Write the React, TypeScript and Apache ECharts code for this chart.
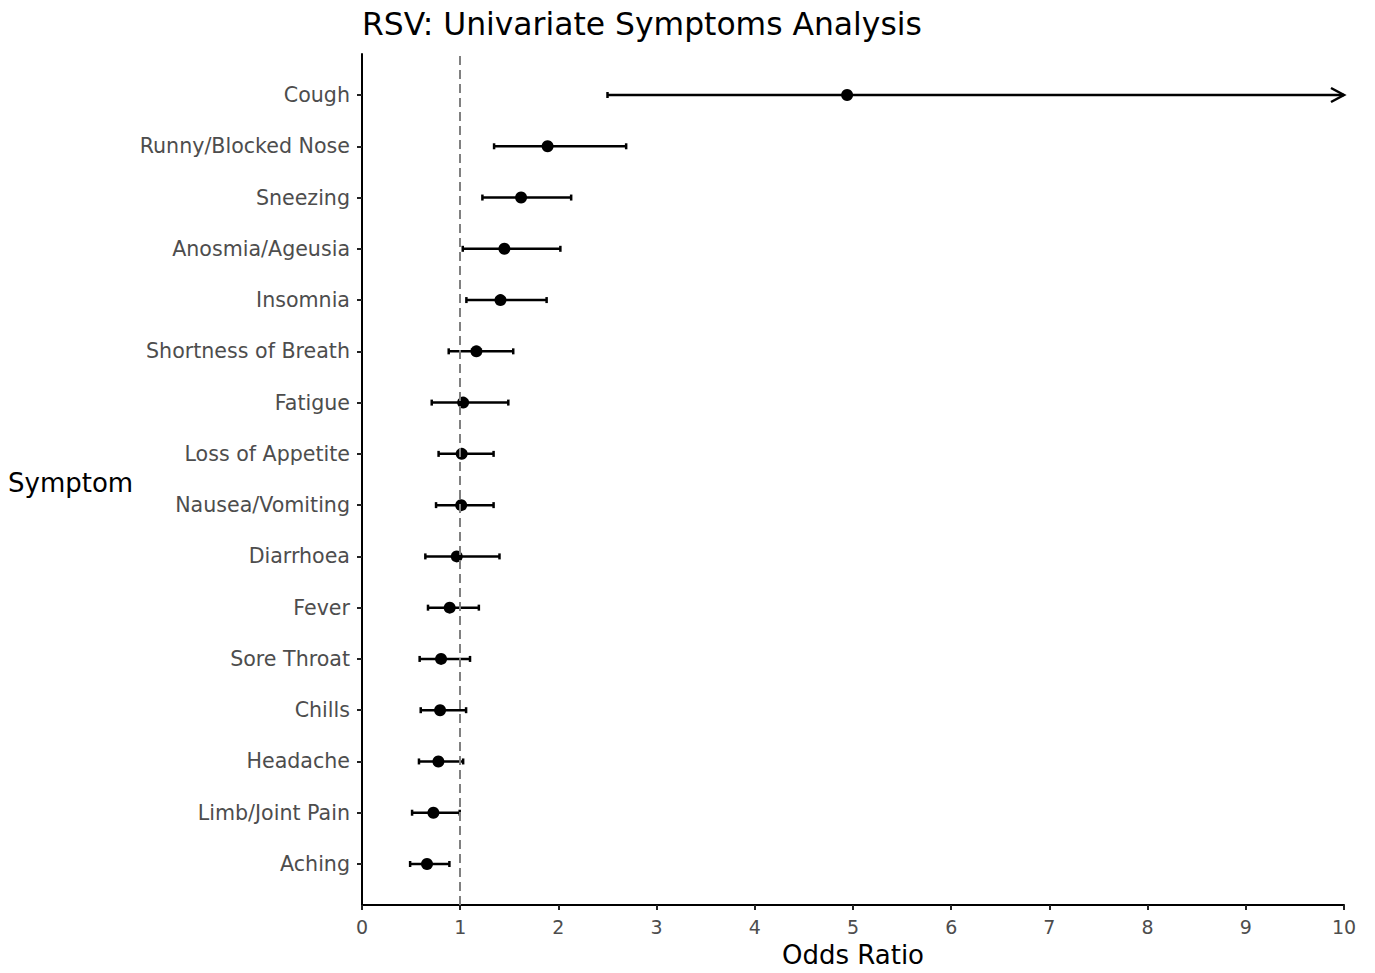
import React, { useEffect, useRef } from "react";
import * as echarts from "echarts";

// Symptoms listed top to bottom
const symptoms = [
  "Cough",
  "Runny/Blocked Nose",
  "Sneezing",
  "Anosmia/Ageusia",
  "Insomnia",
  "Shortness of Breath",
  "Fatigue",
  "Loss of Appetite",
  "Nausea/Vomiting",
  "Diarrhoea",
  "Fever",
  "Sore Throat",
  "Chills",
  "Headache",
  "Limb/Joint Pain",
  "Aching",
];

const oddsRatio = [4.94, 1.89, 1.62, 1.45, 1.41, 1.165, 1.03, 1.015, 1.01, 0.965, 0.893, 0.805, 0.795, 0.778, 0.727, 0.662];
const ciLower = [2.5, 1.345, 1.226, 1.026, 1.063, 0.883, 0.71, 0.78, 0.754, 0.645, 0.672, 0.587, 0.598, 0.58, 0.51, 0.49];
const ciUpper = [11.3, 2.69, 2.13, 2.02, 1.88, 1.54, 1.49, 1.34, 1.34, 1.4, 1.19, 1.1, 1.06, 1.03, 0.995, 0.89];

const xMin = 0;
const xMax = 10;
const xStep = 1;
const referenceOR = 1;

const FONT = "DejaVu Sans";
const n = symptoms.length;
const rowOf = (i: number) => n - 1 - i;
const rowTicks = symptoms.map((_, i) => i);

export default function App() {
  const ref = useRef<HTMLDivElement>(null);

  useEffect(() => {
    document.body.style.margin = "0";
    if (!ref.current) return;
    const chart = echarts.init(ref.current, null, { renderer: "svg" });

    const ciData = symptoms.map((_, i) => [rowOf(i), ciLower[i], ciUpper[i]]);
    const pointData = symptoms.map((_, i) => [oddsRatio[i], rowOf(i)]);

    chart.setOption({
      animation: false,
      backgroundColor: "#ffffff",
      title: {
        text: "RSV: Univariate Symptoms Analysis",
        left: 357,
        top: 3,
        textStyle: { fontFamily: FONT, fontSize: 31.4, fontWeight: "normal", color: "#000" },
      },
      grid: { left: 362, right: 31, top: 54, bottom: 61 },
      xAxis: {
        type: "value",
        min: xMin,
        max: xMax,
        interval: xStep,
        name: "Odds Ratio",
        nameLocation: "middle",
        nameGap: 37,
        nameTextStyle: { fontFamily: FONT, fontSize: 26, color: "#000" },
        axisLine: { show: true, onZero: false, lineStyle: { color: "#000", width: 2 } },
        axisTick: { show: true, length: 5, lineStyle: { color: "#222", width: 2 } },
        axisLabel: { fontFamily: FONT, fontSize: 19, color: "#4d4d4d", margin: 12 },
        splitLine: { show: false },
      },
      yAxis: {
        type: "value",
        min: -0.8,
        max: n - 1 + 0.8,
        axisLine: { show: true, onZero: false, lineStyle: { color: "#000", width: 2 } },
        axisTick: { show: true, length: 5, customValues: rowTicks, lineStyle: { color: "#222", width: 2 } },
        axisLabel: {
          fontFamily: FONT,
          fontSize: 20.6,
          color: "#4d4d4d",
          margin: 12,
          customValues: rowTicks,
          formatter: (v: number) => symptoms[n - 1 - Math.round(v)] ?? "",
        },
        splitLine: { show: false },
      },
      graphic: [
        {
          type: "text",
          left: 8,
          top: 470,
          style: { text: "Symptom", fontFamily: FONT, fontSize: 26, fill: "#000" },
        },
      ],
      series: [
        {
          type: "custom",
          data: ciData,
          encode: { x: [1, 2], y: 0 },
          renderItem: (_params: any, api: any) => {
            const row = api.value(0);
            const lo = api.value(1);
            const hi = api.value(2);
            const truncated = hi > xMax;
            const a = api.coord([lo, row]);
            const b = api.coord([Math.min(hi, xMax), row]);
            const style = { stroke: "#000", lineWidth: 2.5, fill: "none" };
            const cap = 3;
            const children: any[] = [
              { type: "line", shape: { x1: a[0], y1: a[1], x2: b[0], y2: b[1] }, style },
              { type: "line", shape: { x1: a[0], y1: a[1] - cap, x2: a[0], y2: a[1] + cap }, style },
            ];
            if (truncated) {
              children.push({
                type: "polyline",
                shape: { points: [[b[0] - 13, b[1] - 7], [b[0], b[1]], [b[0] - 13, b[1] + 7]] },
                style,
              });
            } else {
              children.push({
                type: "line",
                shape: { x1: b[0], y1: b[1] - cap, x2: b[0], y2: b[1] + cap },
                style,
              });
            }
            return { type: "group", children };
          },
          z: 2,
        },
        {
          type: "scatter",
          data: pointData,
          symbol: "circle",
          symbolSize: 12,
          itemStyle: { color: "#000", opacity: 1 },
          z: 3,
          markLine: {
            silent: true,
            symbol: "none",
            label: { show: false },
            lineStyle: { color: "#808080", width: 2, type: [9, 5] },
            data: [{ xAxis: referenceOR }],
          },
        },
      ],
    });

    return () => chart.dispose();
  }, []);

  return <div ref={ref} style={{ width: 1375, height: 973 }} />;
}
